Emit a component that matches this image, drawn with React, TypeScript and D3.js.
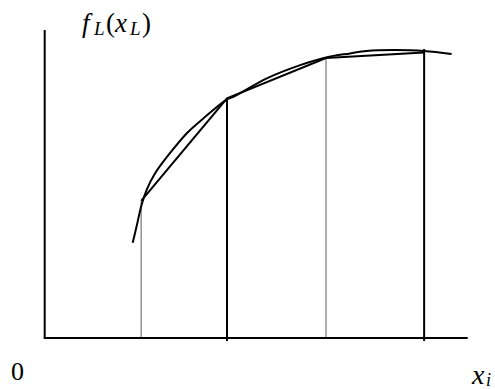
import React from "react";
import * as d3 from "d3";

const curveXs = [20.8, 21.7, 22.9, 24.1, 26.1, 29.6, 33.6, 37.5, 43.1, 44.6, 52.5, 60.4, 66.5, 72.2, 76.1, 82.4, 89.7, 96.2];
const curveYs = [30.9, 36.1, 43.2, 48.1, 53.5, 60.0, 66.5, 71.3, 77.5, 78.3, 84.3, 88.6, 91.1, 92.4, 93.2, 93.5, 93.2, 92.2];

const knotXs = [22.8, 43.1, 66.5, 89.7];
const knotYs = [44.5, 77.8, 90.9, 92.7];
const stemTops = [44.3, 77.9, 90.9, 93.8];
const stemBold = [false, true, false, true];

const W = 495;
const H = 389;

export default function App() {
  const x = d3.scaleLinear().domain([0, 100]).range([44.7, 467.7]);
  const y = d3.scaleLinear().domain([0, 100]).range([338, 30]);

  const curvePts: [number, number][] = curveXs.map((v, i) => [v, curveYs[i]]);
  const knotPts: [number, number][] = knotXs.map((v, i) => [v, knotYs[i]]);

  const curveGen = d3
    .line<[number, number]>()
    .x((d) => x(d[0]))
    .y((d) => y(d[1]))
    .curve(d3.curveCatmullRom.alpha(0.5));
  const polyGen = d3
    .line<[number, number]>()
    .x((d) => x(d[0]))
    .y((d) => y(d[1]));

  const ff = '"Liberation Serif", "DejaVu Serif", serif';

  return (
    <svg
      width={W}
      height={H}
      style={{ position: "absolute", left: 0, top: 0, background: "#fff" }}
    >
      {knotXs.map((v, i) => (
        <line
          key={i}
          x1={x(v)}
          x2={x(v)}
          y1={stemBold[i] ? y(0) + 3 : y(0)}
          y2={y(stemTops[i])}
          stroke={stemBold[i] ? "#000" : "#777"}
          strokeWidth={stemBold[i] ? 2 : 1.2}
        />
      ))}
      <line x1={x(0)} x2={x(0)} y1={y(100)} y2={y(0)} stroke="#000" strokeWidth={2} />
      <line x1={x(0) - 1} x2={x(100)} y1={y(0)} y2={y(0)} stroke="#000" strokeWidth={2} />
      <path d={curveGen(curvePts) || ""} fill="none" stroke="#000" strokeWidth={2} />
      <path d={polyGen(knotPts) || ""} fill="none" stroke="#000" strokeWidth={2} />
      <text style={{ fontFamily: ff, fontSize: 27, fontStyle: "italic" }}>
        <tspan x={82} y={32}>f</tspan>
        <tspan x={94} y={35} style={{ fontSize: 19 }}>L</tspan>
        <tspan x={106} y={32} style={{ fontStyle: "normal" }}>(</tspan>
        <tspan x={115} y={32}>x</tspan>
        <tspan x={130} y={35} style={{ fontSize: 19 }}>L</tspan>
        <tspan x={142} y={32} style={{ fontStyle: "normal" }}>)</tspan>
      </text>
      <text x={11} y={380} style={{ fontFamily: ff, fontSize: 26 }}>0</text>
      <text style={{ fontFamily: ff, fontSize: 28, fontStyle: "italic" }}>
        <tspan x={472} y={384}>x</tspan>
        <tspan x={486} y={386} style={{ fontSize: 18 }}>i</tspan>
      </text>
    </svg>
  );
}
